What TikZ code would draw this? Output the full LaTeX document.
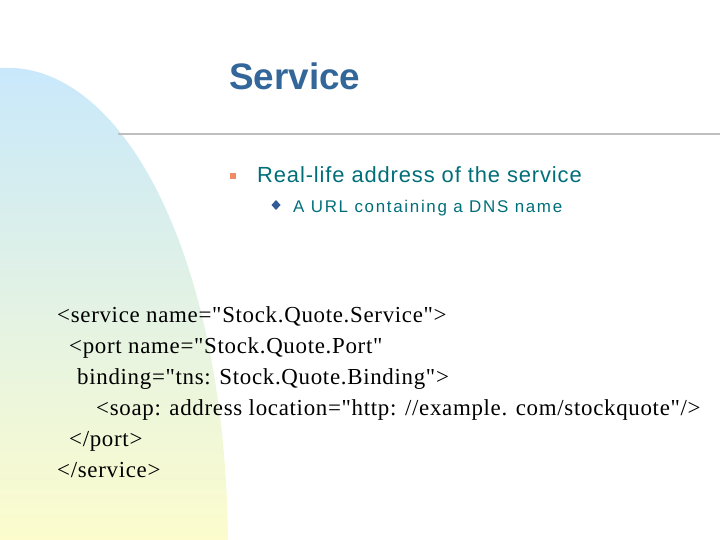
\documentclass[tikz,border=0pt]{standalone}
\usepackage{fontspec}
\setmainfont{Liberation Serif}[Ligatures=ResetAll]
\setsansfont{Liberation Sans}
\newfontfamily\codefont{Liberation Serif}[Ligatures=ResetAll, LetterSpace=3]
\newfontfamily\itemfont{Liberation Sans}[LetterSpace=4]
\newfontfamily\subfont{Liberation Sans}[LetterSpace=10]
\usetikzlibrary{positioning}
\definecolor{titleblue}{RGB}{51,102,153}
\definecolor{tealtext}{RGB}{0,110,120}
\definecolor{bulletorange}{RGB}{240,140,100}
\definecolor{bulletblue}{RGB}{50,90,150}
\definecolor{skyband}{RGB}{200,232,252}
\definecolor{sandband}{RGB}{252,252,205}
\tikzset{
  codeline/.style={anchor=base west, inner sep=0pt, font=\codefont\fontsize{23}{23}\selectfont},
  mainitem/.style={anchor=base west, inner sep=0pt, text=tealtext, font=\itemfont\fontsize{22}{22}\selectfont},
  subitem/.style={anchor=base west, inner sep=0pt, text=tealtext, font=\subfont\fontsize{17}{17}\selectfont}
}
\begin{document}
\begin{tikzpicture}[x=1bp, y=-1bp]
            \useasboundingbox (0,0) rectangle (720,540);
            % left band
            \shade [top color=skyband, bottom color=sandband]
                (0,68) .. controls (120,60) and (225,250) .. (228,540) -- (0,540) -- cycle;
            \draw [gray!50, line width=1.2bp] (118,134) -- (720,134);

            \node (title) [anchor=base west, inner sep=0pt, text=titleblue,
                font=\sffamily\bfseries\fontsize{37}{37}\selectfont] at (229,90) {Service};

            \fill [bulletorange] (230,173) rectangle (236,179);
            \node (item1) [mainitem] at (257,183) {Real-life address of the service};
            \fill [bulletblue] (276,200) -- (280.5,205) -- (276,210) -- (271.5,205) -- cycle;
            \node (item2) [subitem] at (293,213) {A URL containing a DNS name};

            \node (c1) [codeline] at (57,322) {<service name="Stock.Quote.Service">};
            \node (c2) [codeline] at (69,353) {<port name="Stock.Quote.Port"};
            \node (c3) [codeline] at (77,384) {binding="tns: Stock.Quote.Binding">};
            \node (c4) [codeline] at (96,415) {<soap: address location="http: //example. com/stockquote"/>};
            \node (c5) [codeline] at (69,446) {</port>};
            \node (c6) [codeline] at (57,477) {</service>};
\end{tikzpicture}
\end{document}
